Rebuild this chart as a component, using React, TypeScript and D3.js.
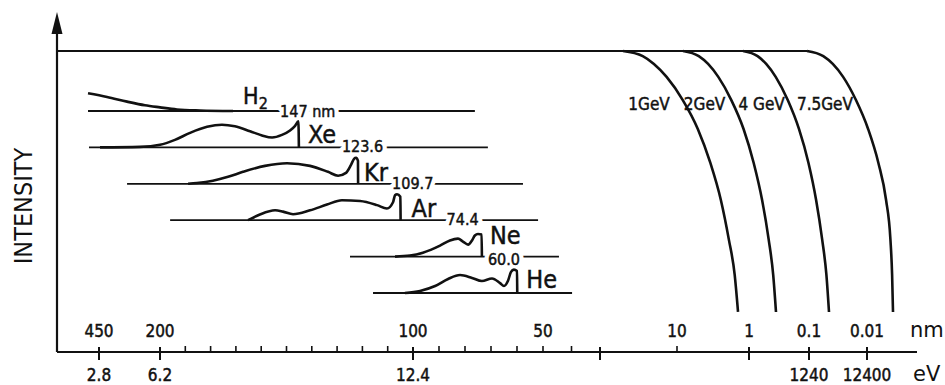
import React from "react";
import * as d3 from "d3";

const WIDTH = 945;
const HEIGHT = 385;

// Wavelength axis (nm): labelled ticks, crossing ticks and small ticks
const nmTicks = [450, 200, 100, 50, 10, 1, 0.1, 0.01];
const nmLabels = ["450", "200", "100", "50", "10", "1", "0.1", "0.01"];
const majorTicks = [450, 200, 100, 30, 1, 0.1, 0.01];
const minorTicks = [190, 180, 170, 160, 150, 140, 130, 120, 110, 90, 80, 70, 60, 50, 40, 10];
// Photon energy labels (eV) and the wavelength tick each one sits under
const evTicks = [450, 200, 100, 0.1, 0.01];
const evLabels = ["2.8", "6.2", "12.4", "1240", "12400"];

// Gas discharge continua: [wavelength nm, relative height]
const gases = ["H2", "Xe", "Kr", "Ar", "Ne", "He"];
const gasRanges: [number, number][] = [
  [495, 76.2], [491, 71.2], [335, 57.7], [196, 51.9], [124.9, 44.4], [115.8, 39.8],
];
const h2Spectrum: [number, number][] = [
  [495, 68], [417, 54], [335, 36], [262, 22], [200, 14], [193.3, 6], [184.2, 2], [171.1, 0],
];
const xeSpectrum: [number, number][] = [
  [445.9, 0], [282, 2], [200, 10], [194.1, 29], [188.1, 56], [181.4, 79], [175.5, 87],
  [170.4, 81], [164.4, 62], [159.7, 46], [155.7, 38], [151.8, 48], [148.6, 65],
  [146.6, 83], [145.3, 100], [145.1, 0],
];
const krSpectrum: [number, number][] = [
  [188.9, 0], [185.4, 3], [179.1, 12], [173.1, 27], [167.2, 46], [158.5, 69], [149.8, 79],
  [140.7, 69], [133.6, 46], [129.6, 31], [126.5, 42], [124.5, 73], [123.3, 96],
  [122.5, 100], [121.75, 88], [121.7, 0],
];
const arSpectrum: [number, number][] = [
  [165.2, 0], [160.5, 22], [154.5, 38], [151.4, 33], [147.4, 23], [140.7, 38], [134.0, 60],
  [128.1, 77], [120.9, 74], [114.2, 58], [110.3, 45], [107.9, 69], [107.1, 96],
  [106.3, 100], [105.0, 90], [104.9, 0],
];
const neSpectrum: [number, number][] = [
  [107.1, 0], [101.2, 4], [96.2, 15], [89.6, 42], [85.8, 62], [82.7, 69], [80.8, 58],
  [78.8, 46], [77.3, 62], [76.2, 81], [75.0, 87], [73.6, 85], [73.5, 0],
];
const heSpectrum: [number, number][] = [
  [103.2, 0], [97.3, 8], [91.5, 27], [86.5, 54], [81.9, 69], [77.3, 58], [73.5, 46],
  [69.6, 56], [66.5, 38], [65.0, 27], [63.5, 46], [62.3, 81], [61.2, 90], [60.0, 85],
  [59.9, 0],
];
const gasSpectra = [h2Spectrum, xeSpectrum, krSpectrum, arSpectrum, neSpectrum, heSpectrum];
// Line wavelengths written on the base lines of the rows H2 .. Ne
const lineLabels = ["147 nm", "123.6", "109.7", "74.4", "60.0"];

// Synchrotron radiation: intensity levels and the wavelength (nm) reached at each level
const ringEnergies = ["1GeV", "2GeV", "4 GeV", "7.5GeV"];
const syncLevels = [100, 98.3, 95.7, 91.4, 83.7, 74.1, 62.8, 50.5, 37.5, 25.6, 13.3];
const sync1GeV = [21.6, 16.3, 13.9, 11.6, 8.31, 5.14, 3.44, 2.46, 1.91, 1.58, 1.42];
const sync2GeV = [8.25, 4.98, 3.7, 2.67, 1.76, 1.19, 0.835, 0.605, 0.471, 0.395, 0.355];
const sync4GeV = [1.21, 0.719, 0.517, 0.359, 0.226, 0.147, 0.102, 0.0754, 0.0594, 0.0501, 0.0452];
const sync75GeV = [0.108, 0.0567, 0.0389, 0.0258, 0.0155, 0.00957, 0.00636, 0.00469, 0.00395, 0.00369, 0.00356];
const syncSpectra = [sync1GeV, sync2GeV, sync4GeV, sync75GeV];

const FONT = "'DejaVu Sans Condensed','DejaVu Sans',sans-serif";
const INK = "#111";

// label placement (px) relative to the end of each gas curve
const nameOffsets = [[10, -7], [9, -4], [6, -3], [11, -3], [8, -13], [9, -5]];
const lineLabelOffsets = [[47, 6], [43, 5], [34, 5], [46, 5], [6, 8]];
const energyLabelDx = [-13, -6, -3, -3];

// slightly heavier glyphs, like print
const inkText = { fill: INK, stroke: INK, strokeWidth: 0.45 };

export default function App() {
  const left = 57;
  const right = 917;

  const xLin = d3.scaleLinear().domain([450, 200, 100, 50, 30]).range([99, 160, 413, 543, 600]);
  const xLog = d3.scaleLog().domain([30, 10, 1, 0.1, 0.01]).range([600, 677, 749, 809, 867]);
  const x = (nm: number) => (nm >= 30 ? xLin(nm) : xLog(nm));
  const yI = d3.scaleLinear().domain([0, 100]).range([352, 51]);
  const rowY = d3.scalePoint<string>().domain(gases).range([111, 293]);
  const hS = d3.scaleLinear().domain([0, 100]).range([0, 26]);

  const base = yI(0);

  const syncLine = d3
    .line<[number, number]>()
    .x((d) => x(d[0]))
    .y((d) => yI(d[1]))
    .curve(d3.curveMonotoneX);

  const envelopeEnd = x(sync75GeV[0]);

  return (
    <svg
      width={WIDTH}
      height={HEIGHT}
      style={{ position: "absolute", left: 0, top: 0, background: "#fff" }}
      fontFamily={FONT}
    >
      <rect width={WIDTH} height={HEIGHT} fill="#fff" />

      {/* intensity axis with arrow */}
      <line x1={left} y1={base} x2={left} y2={30} stroke={INK} strokeWidth={2.2} />
      <path d={`M${left},12 L${left - 5.5},34 L${left + 5.5},34 Z`} fill={INK} />
      <text
        transform={`translate(32,206) rotate(-90)`}
        textAnchor="middle"
        fontSize={25}
        fill={INK}
      >
        INTENSITY
      </text>

      {/* wavelength axis */}
      <line x1={left} y1={base} x2={right} y2={base} stroke={INK} strokeWidth={2} />
      {majorTicks.map((t) => (
        <line key={"M" + t} x1={x(t)} x2={x(t)} y1={base - 5} y2={base + 8} stroke={INK} strokeWidth={2} />
      ))}
      {minorTicks.map((t) => (
        <line key={"m" + t} x1={x(t)} x2={x(t)} y1={base - 6} y2={base} stroke={INK} strokeWidth={1.6} />
      ))}
      {nmTicks.map((t, i) => (
        <text key={"n" + t} x={x(t)} y={337} textAnchor="middle" fontSize={17} {...inkText}>
          {nmLabels[i]}
        </text>
      ))}
      <text x={910} y={337} fontSize={21} fill={INK} fontFamily="'DejaVu Sans',sans-serif">
        nm
      </text>
      {evTicks.map((t, i) => (
        <text key={"e" + t} x={x(t)} y={381} textAnchor="middle" fontSize={17} {...inkText}>
          {evLabels[i]}
        </text>
      ))}
      <text x={913} y={381} fontSize={21} fill={INK} fontFamily="'DejaVu Sans',sans-serif">
        eV
      </text>

      {/* synchrotron spectra */}
      <line x1={left} y1={yI(100)} x2={envelopeEnd} y2={yI(100)} stroke={INK} strokeWidth={1.8} />
      {syncSpectra.map((s, i) => {
        const pts = s.map((nm, k) => [nm, syncLevels[k]] as [number, number]);
        return (
          <g key={ringEnergies[i]}>
            <path d={syncLine(pts) || ""} fill="none" stroke={INK} strokeWidth={2.6} />
            <text
              x={x(s[4]) + energyLabelDx[i]}
              y={110}
              textAnchor="end"
              fontSize={17}
              {...inkText}
            >
              {ringEnergies[i]}
            </text>
          </g>
        );
      })}

      {/* gas discharge continua */}
      {gases.map((g, i) => {
        const y0 = rowY(g) as number;
        const spec = gasSpectra[i];
        const line = d3
          .line<[number, number]>()
          .x((d) => x(d[0]))
          .y((d) => y0 - hS(d[1]))
          .curve(d3.curveMonotoneX);
        const endX = x(spec[spec.length - 1][0]);
        const [ndx, ndy] = nameOffsets[i];
        return (
          <g key={g}>
            <line
              x1={x(gasRanges[i][0])}
              x2={x(gasRanges[i][1])}
              y1={y0}
              y2={y0}
              stroke={INK}
              strokeWidth={1.8}
            />
            <path d={line(spec) || ""} fill="none" stroke={INK} strokeWidth={2.6} strokeLinejoin="round" />
            {g === "H2" ? (
              <text x={endX + ndx} y={y0 + ndy} fontSize={23} {...inkText}>
                H
                <tspan fontSize={16} dy={5}>
                  2
                </tspan>
              </text>
            ) : (
              <text x={endX + ndx} y={y0 + ndy} fontSize={25} {...inkText}>
                {g}
              </text>
            )}
            {i < lineLabels.length && (
              <g>
                <text
                  x={endX + lineLabelOffsets[i][0]}
                  y={y0 + lineLabelOffsets[i][1]}
                  fontSize={16}
                  fill="#fff"
                  stroke="#fff"
                  strokeWidth={9}
                  strokeLinejoin="round"
                >
                  {lineLabels[i]}
                </text>
                <text
                  x={endX + lineLabelOffsets[i][0]}
                  y={y0 + lineLabelOffsets[i][1]}
                  fontSize={16}
                  {...inkText}
                >
                  {lineLabels[i]}
                </text>
              </g>
            )}
          </g>
        );
      })}
    </svg>
  );
}
